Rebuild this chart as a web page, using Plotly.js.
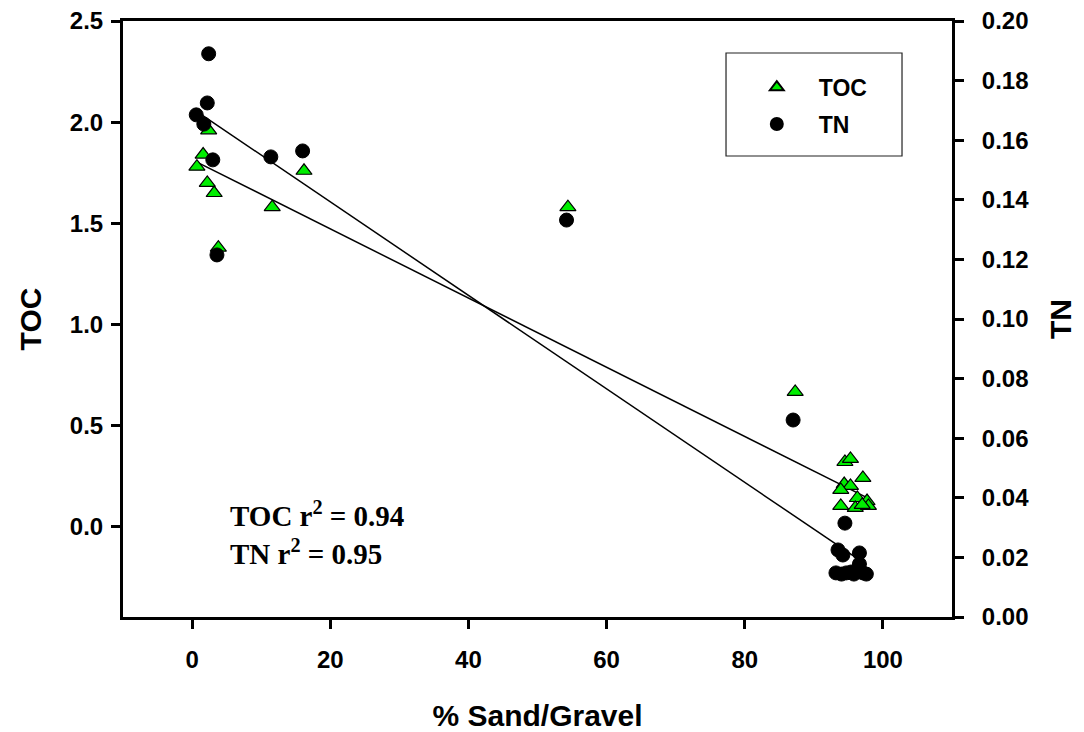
<!DOCTYPE html>
<html>
<head>
<meta charset="utf-8">
<script src="https://cdn.plot.ly/plotly-3.0.1.min.js"></script>
<style>
  html, body { margin: 0; padding: 0; background: #ffffff; }
  #chart { width: 1084px; height: 732px; }
</style>
</head>
<body>
<div id="chart"></div>
<script>
// ---- Data ----
const tocSand = [0.7, 1.6, 2.2, 2.4, 3.2, 3.8, 11.6, 16.2, 54.4, 87.3,
                 94.5, 95.3, 97.1, 94.4, 95.3, 93.9, 93.9, 96.3, 96.0, 97.7, 97.9, 97.0];
const tocValues = [1.78, 1.84, 1.70, 1.96, 1.65, 1.38, 1.58, 1.76, 1.58, 0.667,
                   0.321, 0.336, 0.242, 0.212, 0.203, 0.183, 0.104, 0.143, 0.094, 0.128, 0.104, 0.109];

const tnSand = [2.4, 2.2, 0.6, 1.7, 3.0, 11.4, 16.0, 3.6, 54.2, 87.0,
                94.5, 93.5, 94.2, 96.6, 96.6, 93.2, 94.7, 95.8, 97.1, 97.6, 94.0, 95.4];
const tnValues = [0.189, 0.1725, 0.1685, 0.1654, 0.1534, 0.1544, 0.1564, 0.1215, 0.1332, 0.0661,
                  0.0315, 0.0225, 0.0208, 0.0215, 0.0178, 0.0148, 0.0148, 0.0144, 0.0148, 0.0144, 0.0144, 0.0151];

// Linear fits as drawn on the reference: [intercept, slope]
const tocFit = [1.815, -0.0171];
const tnFit = [0.1707, -0.001569];

const xTickVals = [0, 20, 40, 60, 80, 100];
const yTickVals = [0.0, 0.5, 1.0, 1.5, 2.0, 2.5];
const y2TickVals = [0.00, 0.02, 0.04, 0.06, 0.08, 0.10, 0.12, 0.14, 0.16, 0.18, 0.20];

const seriesNames = ['TOC', 'TN'];
const annoLines = ['TOC r<sup>2</sup> = 0.94', 'TN r<sup>2</sup> = 0.95'];

// ---- Build fit lines from coefficients over each series' x-span ----
function fitLine(xs, fit) {
  const lo = Math.min(...xs), hi = Math.max(...xs);
  return { x: [lo, hi], y: [fit[0] + fit[1] * lo, fit[0] + fit[1] * hi] };
}
const tocLine = fitLine(tocSand, tocFit);
const tnLine = fitLine(tnSand, tnFit);

const SANS = 'Liberation Sans, Arial, sans-serif';
const SERIF = 'Liberation Serif, Times New Roman, serif';
const b = s => '<b>' + s + '</b>';

const traces = [
  { x: tocLine.x, y: tocLine.y, mode: 'lines', yaxis: 'y', showlegend: false,
    line: { color: '#000000', width: 1.5 }, hoverinfo: 'skip' },
  { x: tnLine.x, y: tnLine.y, mode: 'lines', yaxis: 'y2', showlegend: false,
    line: { color: '#000000', width: 1.5 }, hoverinfo: 'skip' },
  { x: tnSand, y: tnValues, name: b(seriesNames[1]), mode: 'markers', type: 'scatter', yaxis: 'y2',
    legendrank: 2, legendgroup: 'tn',
    marker: { symbol: 'circle', size: 14, color: '#000000', line: { color: '#000000', width: 1 } } },
  { x: tocSand, y: tocValues, name: b(seriesNames[0]), mode: 'markers', type: 'scatter', yaxis: 'y',
    legendrank: 1, legendgroup: 'toc',
    marker: { symbol: 'triangle-up', size: 14, color: '#00ee00', line: { color: '#000000', width: 1.2 } } }
];

const tickFont = { family: SANS, size: 24, color: '#000000', weight: 700 };
const titleFont = { family: SANS, size: 30, color: '#000000', weight: 700 };

const layout = {
  width: 1084, height: 732,
  margin: { l: 123, r: 132, t: 21, b: 115, pad: 0 },
  paper_bgcolor: '#ffffff', plot_bgcolor: '#ffffff',
  font: { family: SANS, color: '#000000', size: 22 },
  showlegend: true,
  legend: {
    x: 0.738, y: 0.925, xanchor: 'left', yanchor: 'top',
    bgcolor: 'rgba(0,0,0,0)', borderwidth: 0,
    font: { family: SANS, size: 23, color: '#000000', weight: 700 },
    itemsizing: 'constant', itemwidth: 74, traceorder: 'grouped', tracegroupgap: 4
  },
  xaxis: {
    range: [-10, 110], tickvals: xTickVals, ticktext: xTickVals.map(v => b(String(v))),
    showgrid: false, zeroline: false,
    showline: true, linecolor: '#000000', linewidth: 3, mirror: true,
    ticks: 'outside', ticklen: 9, tickwidth: 3, tickcolor: '#000000',
    ticklabelstandoff: 10,
    tickfont: tickFont,
    title: { text: b('% Sand/Gravel'), font: titleFont, standoff: 36 }
  },
  yaxis: {
    range: [-0.445, 2.5], tickvals: yTickVals, ticktext: yTickVals.map(v => b(v.toFixed(1))),
    showgrid: false, zeroline: false,
    showline: true, linecolor: '#000000', linewidth: 3,
    ticks: 'outside', ticklen: 9, tickwidth: 3, tickcolor: '#000000',
    ticklabelstandoff: 3,
    tickfont: tickFont,
    title: { text: b('TOC'), font: titleFont, standoff: 20 }
  },
  yaxis2: {
    overlaying: 'y', side: 'right',
    range: [0, 0.2], tickvals: y2TickVals, ticktext: y2TickVals.map(v => b(v.toFixed(2))),
    showgrid: false, zeroline: false,
    showline: true, linecolor: '#000000', linewidth: 3,
    ticks: 'outside', ticklen: 9, tickwidth: 3, tickcolor: '#000000',
    ticklabelstandoff: 13,
    tickfont: tickFont,
    title: { text: b('TN'), font: titleFont, standoff: 22 }
  },
  shapes: [
    { type: 'rect', xref: 'paper', yref: 'paper',
      x0: 0.7274, x1: 0.9397, y0: 0.7735, y1: 0.9463,
      line: { color: '#222222', width: 1.2 }, fillcolor: 'rgba(0,0,0,0)', layer: 'below' }
  ],
  annotations: [
    { xref: 'paper', yref: 'paper', x: 0.1267, y: 0.141, xanchor: 'left', yanchor: 'middle',
      align: 'left', showarrow: false, text: b(annoLines[0]) + '<br>' + b(annoLines[1]),
      font: { family: SERIF, size: 29, color: '#000000', weight: 700 } }
  ]
};

Plotly.newPlot('chart', traces, layout, { displayModeBar: false, staticPlot: true });
</script>
</body>
</html>
